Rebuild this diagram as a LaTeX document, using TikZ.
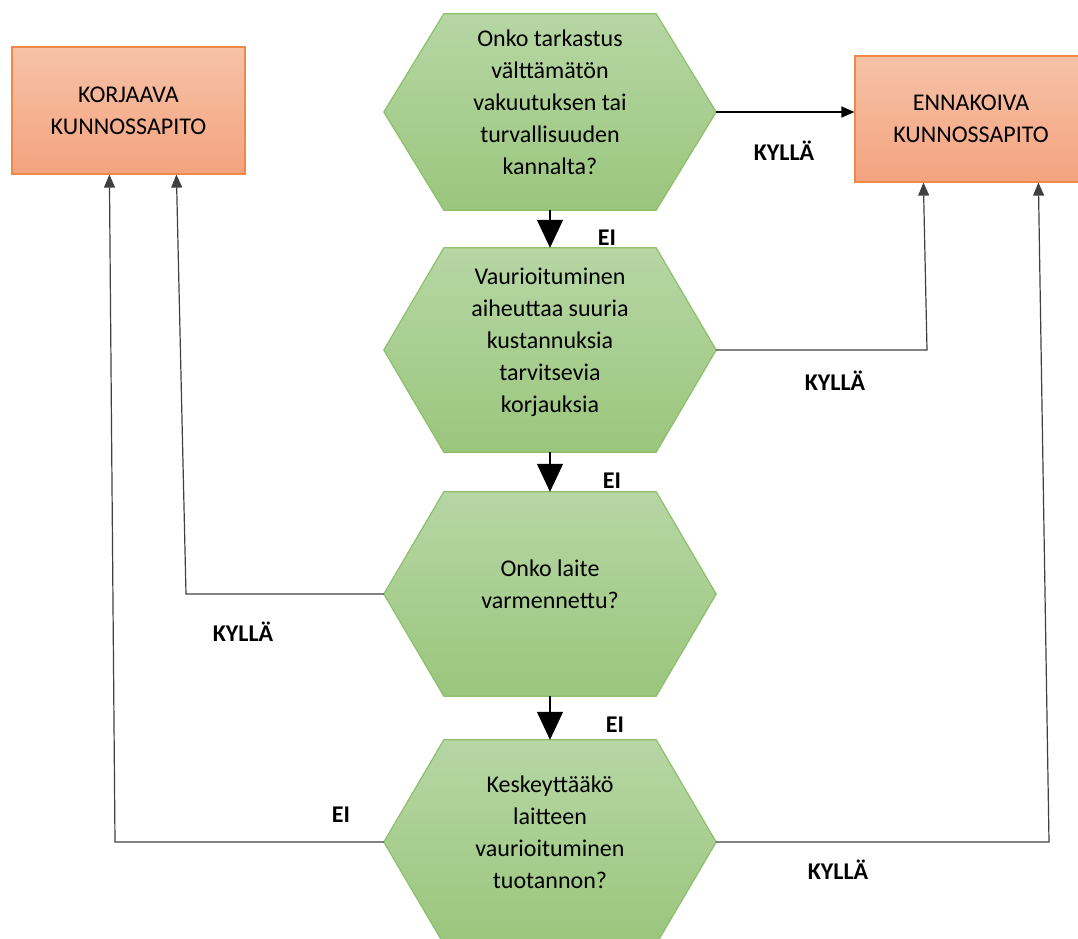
\documentclass[tikz,border=0pt]{standalone}
\usepackage{fontspec}
\setmainfont{Carlito}
\usetikzlibrary{arrows.meta, positioning, backgrounds}
\definecolor{hexTop}{RGB}{182,214,164}
\definecolor{hexBot}{RGB}{155,198,125}
\definecolor{hexLine}{RGB}{141,192,106}
\definecolor{boxTop}{RGB}{246,194,168}
\definecolor{boxBot}{RGB}{244,163,127}
\definecolor{boxLine}{RGB}{240,136,72}
\tikzset{
  hexa/.style={rectangle, inner sep=0pt, minimum width=332pt,
               minimum height=204pt, align=center,
               font=\fontsize{24}{32}\selectfont,
               execute at end node={\rule[-20pt]{0pt}{1pt}}},
  hexline/.style={draw=hexLine, line width=1.2pt, line join=miter,
                  top color=hexTop, bottom color=hexBot},
  outbox/.style={rectangle, draw=boxLine, line width=1.2pt,
                 top color=boxTop, bottom color=boxBot,
                 minimum width=233pt, minimum height=127pt, align=center,
                 font=\fontsize{24}{32}\selectfont},
  down/.style={line width=1.2pt, -{Triangle[width=26pt, length=28pt]}},
  conn/.style={line width=1.2pt, black!75, -{Triangle[width=11pt, length=13pt]}},
  answer/.style={font=\fontsize{24}{28}\selectfont\bfseries},
}
\begin{document}
\begin{tikzpicture}[x=1pt, y=-1pt]
    \useasboundingbox (0,0) rectangle (1078,938);
    % Decisions
    \node[hexa, minimum height=196pt] (h1) at (550,112)
      {Onko tarkastus\\välttämätön\\vakuutuksen tai\\turvallisuuden\\kannalta?};
    \node[hexa] (h2) at (550,350)
      {Vaurioituminen\\aiheuttaa suuria\\kustannuksia\\tarvitsevia\\korjauksia};
    \node[hexa] (h3) at (550,594) {Onko laite\\varmennettu?};
    \node[hexa] (h4) at (550,842)
      {Keskeyttääkö\\laitteen\\vaurioituminen\\tuotannon?};
    \begin{scope}[on background layer]
      \foreach \h in {h1,h2,h3,h4}
        \path[hexline] (\h.west) -- ([xshift=60pt]\h.north west)
          -- ([xshift=-60pt]\h.north east) -- (\h.east)
          -- ([xshift=-60pt]\h.south east) -- ([xshift=60pt]\h.south west) -- cycle;
    \end{scope}
    % Outcomes
    \node[outbox] (korjaava) at (128.5,110.5) {KORJAAVA\\KUNNOSSAPITO};
    \node[outbox, minimum width=232pt, minimum height=126pt] (ennakoiva) at (971,119)
      {ENNAKOIVA\\KUNNOSSAPITO};
    % Bends
    \coordinate (b2) at (927,350);
    \coordinate (b3) at (186,594);
    \coordinate (b4l) at (115,842);
    \coordinate (b4r) at (1049,842);
    % Main flow
    \draw[down] (h1.south) -- (h2.north);
    \draw[down] (h2.south) -- (h3.north);
    \draw[down] (h3.south) -- (h4.north);
    % Branches
    \draw[conn, black] (h1.east) -- (h1.east -| ennakoiva.west);
    \draw[conn] (h2.east) -- (b2) -- ([xshift=69pt]ennakoiva.south west);
    \draw[conn] (h3.west) -- (b3) -- ([xshift=165pt]korjaava.south west);
    \draw[conn] (h4.west) -- (b4l) -- ([xshift=98pt]korjaava.south west);
    \draw[conn] (h4.east) -- (b4r) -- ([xshift=184pt]ennakoiva.south west);
    % Answers
    \node[answer] (a1) at (784,151) {KYLLÄ};
    \node[answer] (a2) at (835,381) {KYLLÄ};
    \node[answer] (a3) at (243,632) {KYLLÄ};
    \node[answer] (a4) at (838,870) {KYLLÄ};
    \node[answer] (a5) at (341,815) {EI};
    \node[answer] (e1) at (607,238) {EI};
    \node[answer] (e2) at (612,481) {EI};
    \node[answer] (e3) at (615,725) {EI};
\end{tikzpicture}
\end{document}
